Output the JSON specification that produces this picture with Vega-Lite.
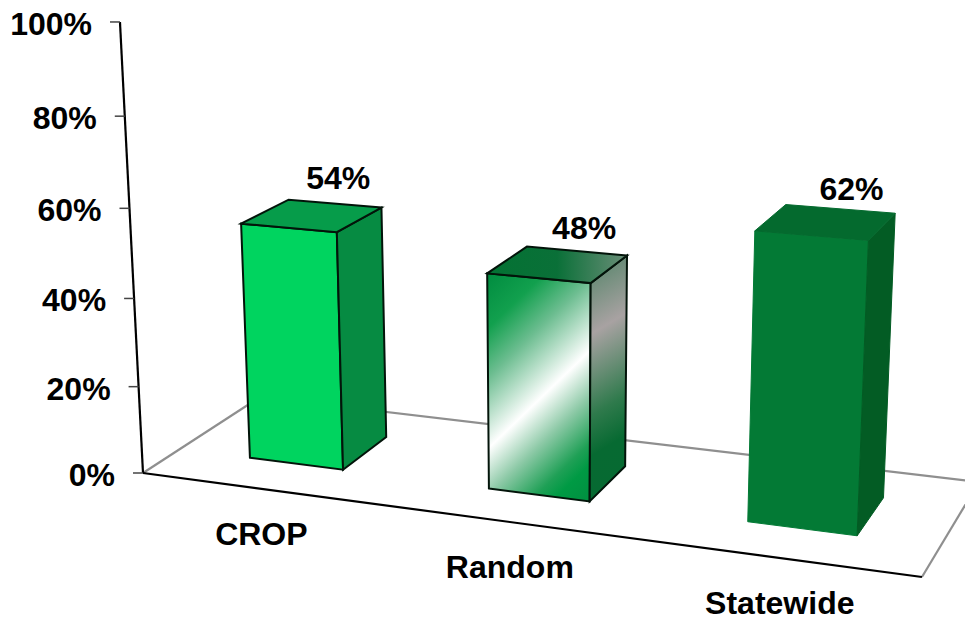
{
  "$schema": "https://vega.github.io/schema/vega-lite/v6.json",
  "description": "Three share bars drawn as boxes on a floor in perspective; every corner is a point in chart space (X along the categories, Z in depth, Y the share) sent through one camera projection.",
  "width": 965,
  "height": 620,
  "padding": 0,
  "autosize": {"type": "none"},
  "background": "white",
  "config": {"view": {"stroke": null}},
  "encoding": {
    "x": {"field": "px", "type": "quantitative", "axis": null, "scale": {"domain": [0, 965], "range": [0, 965], "nice": false, "zero": false}},
    "y": {"field": "py", "type": "quantitative", "axis": null, "scale": {"domain": [0, 620], "range": [0, 620], "nice": false, "zero": false}}
  },
  "layer": [
    {
      "data": {"values": [
        {"edge": "left", "tone": "gray", "k": 0, "X": 0, "Z": 0, "Y": 0},
        {"edge": "left", "tone": "gray", "k": 1, "X": 0, "Z": 1, "Y": 0},
        {"edge": "back", "tone": "gray", "k": 0, "X": 0, "Z": 1, "Y": 0},
        {"edge": "back", "tone": "gray", "k": 1, "X": 1, "Z": 1, "Y": 0},
        {"edge": "right", "tone": "gray", "k": 0, "X": 1, "Z": 1, "Y": 0},
        {"edge": "right", "tone": "gray", "k": 1, "X": 1, "Z": 0, "Y": 0},
        {"edge": "front", "tone": "black", "k": 0, "X": 0, "Z": 0, "Y": 0},
        {"edge": "front", "tone": "black", "k": 1, "X": 1, "Z": 0, "Y": 0},
        {"edge": "axis", "tone": "black", "k": 0, "X": 0, "Z": 0, "Y": 0},
        {"edge": "axis", "tone": "black", "k": 1, "X": 0, "Z": 0, "Y": 1}
      ]},
      "transform": [
        {"calculate": "1-0.117*datum.X+0.0927*datum.Z-0.0531*datum.Y", "as": "w"},
        {"calculate": "(671.1*datum.X+141.1*datum.Z-29.4*datum.Y+143)/datum.w", "as": "px"},
        {"calculate": "(36.5*datum.X-39.2*datum.Z-452.2*datum.Y+473)/datum.w", "as": "py"}
      ],
      "layer": [
        {
          "mark": {"type": "line", "strokeWidth": 2.2},
          "encoding": {
            "detail": {"field": "edge"},
            "order": {"field": "k", "type": "quantitative"},
            "color": {"field": "tone", "type": "nominal", "legend": null, "scale": {"domain": ["gray", "black"], "range": ["#8f8f8f", "#000000"]}}
          }
        }
      ]
    },
    {
      "data": {"values": [{"tick": 0}, {"tick": 20}, {"tick": 40}, {"tick": 60}, {"tick": 80}, {"tick": 100}]},
      "transform": [
        {"calculate": "1-0.0531*datum.tick/100", "as": "w"},
        {"calculate": "(143-29.4*datum.tick/100)/datum.w", "as": "px"},
        {"calculate": "(473-452.2*datum.tick/100)/datum.w", "as": "py"},
        {"calculate": "datum.px-10", "as": "tickEnd"},
        {"calculate": "datum.tick+'%'", "as": "label"}
      ],
      "layer": [
        {
          "mark": {"type": "rule", "stroke": "#444444", "strokeWidth": 1.5},
          "encoding": {"x2": {"field": "tickEnd"}}
        },
        {
          "mark": {"type": "text", "align": "right", "baseline": "middle", "dx": -28, "dy": 3, "font": "Liberation Sans", "fontWeight": "bold", "fontSize": 32, "fill": "#000000"},
          "encoding": {"text": {"field": "label", "type": "nominal"}}
        }
      ]
    },
    {
      "data": {"name": "bars", "values": [
        {"category": "CROP", "value": 54},
        {"category": "Random", "value": 48},
        {"category": "Statewide", "value": 62}
      ]},
      "transform": [
        {"calculate": "(indexof(['CROP','Random','Statewide'],datum.category)+0.5)/3+0.002", "as": "xc"},
        {"calculate": "datum.xc-0.0665", "as": "x0"},
        {"calculate": "datum.xc+0.0665", "as": "x1"},
        {"calculate": "datum.value/100", "as": "h"},
        {"calculate": "[{f:'front',k:0,X:datum.x0,Z:0.3,Y:0},{f:'front',k:1,X:datum.x1,Z:0.3,Y:0},{f:'front',k:2,X:datum.x1,Z:0.3,Y:datum.h},{f:'front',k:3,X:datum.x0,Z:0.3,Y:datum.h},{f:'side',k:0,X:datum.x1,Z:0.3,Y:0},{f:'side',k:1,X:datum.x1,Z:0.71,Y:0},{f:'side',k:2,X:datum.x1,Z:0.71,Y:datum.h},{f:'side',k:3,X:datum.x1,Z:0.3,Y:datum.h},{f:'top',k:0,X:datum.x0,Z:0.3,Y:datum.h},{f:'top',k:1,X:datum.x1,Z:0.3,Y:datum.h},{f:'top',k:2,X:datum.x1,Z:0.71,Y:datum.h},{f:'top',k:3,X:datum.x0,Z:0.71,Y:datum.h}]", "as": "v"},
        {"flatten": ["v"]},
        {"calculate": "datum.v.f", "as": "face"},
        {"calculate": "datum.v.k", "as": "k"},
        {"calculate": "datum.category+' '+datum.face", "as": "piece"},
        {"calculate": "1-0.117*datum.v.X+0.0927*datum.v.Z-0.0531*datum.v.Y", "as": "w"},
        {"calculate": "(671.1*datum.v.X+141.1*datum.v.Z-29.4*datum.v.Y+143)/datum.w", "as": "px"},
        {"calculate": "(36.5*datum.v.X-39.2*datum.v.Z-452.2*datum.v.Y+473)/datum.w", "as": "py"}
      ],
      "encoding": {
        "order": {"field": "k", "type": "quantitative"},
        "detail": {"field": "piece"}
      },
      "layer": [
        {
          "transform": [{"filter": "datum.category==='CROP'&&datum.face==='front'"}],
          "mark": {"type": "line", "interpolate": "linear-closed", "fill": "#00d45f", "stroke": "#03140a", "strokeWidth": 2}
        },
        {
          "transform": [{"filter": "datum.category==='CROP'&&datum.face==='side'"}],
          "mark": {"type": "line", "interpolate": "linear-closed", "fill": "#068b42", "stroke": "#03140a", "strokeWidth": 2}
        },
        {
          "transform": [{"filter": "datum.category==='CROP'&&datum.face==='top'"}],
          "mark": {"type": "line", "interpolate": "linear-closed", "fill": "#069c4a", "stroke": "#03140a", "strokeWidth": 2}
        },
        {
          "transform": [{"filter": "datum.category==='Statewide'&&datum.face==='front'"}],
          "mark": {"type": "line", "interpolate": "linear-closed", "fill": "#037a35", "stroke": "#037a35", "strokeWidth": 1}
        },
        {
          "transform": [{"filter": "datum.category==='Statewide'&&datum.face==='side'"}],
          "mark": {"type": "line", "interpolate": "linear-closed", "fill": "#035c24", "stroke": "#035c24", "strokeWidth": 1}
        },
        {
          "transform": [{"filter": "datum.category==='Statewide'&&datum.face==='top'"}],
          "mark": {"type": "line", "interpolate": "linear-closed", "fill": "#046a2e", "stroke": "#046a2e", "strokeWidth": 1}
        },
        {
          "transform": [{"filter": "datum.category==='Random'&&datum.face==='front'"}],
          "mark": {"type": "line", "interpolate": "linear-closed", "stroke": "#03140a", "strokeWidth": 2,
            "fill": {"gradient": "linear", "x1": 0, "y1": 0, "x2": 0.5275, "y2": 1.206, "stops": [
              {"offset": 0, "color": "#008c3f"},
              {"offset": 0.17, "color": "#12a04e"},
              {"offset": 0.32, "color": "#6cbd90"},
              {"offset": 0.538, "color": "#ffffff"},
              {"offset": 0.68, "color": "#8cc9a6"},
              {"offset": 0.82, "color": "#1fa056"},
              {"offset": 0.885, "color": "#009a44"},
              {"offset": 1, "color": "#008f40"}
            ]}}
        },
        {
          "transform": [{"filter": "datum.category==='Random'&&datum.face==='side'"}],
          "mark": {"type": "line", "interpolate": "linear-closed", "stroke": "#03140a", "strokeWidth": 2,
            "fill": {"gradient": "linear", "x1": 0, "y1": 0, "x2": 0.099, "y2": 1.083, "stops": [
              {"offset": 0, "color": "#4f8265"},
              {"offset": 0.296, "color": "#a8a2a2"},
              {"offset": 0.6, "color": "#2f7a4c"},
              {"offset": 0.75, "color": "#076a32"},
              {"offset": 1, "color": "#066a32"}
            ]}}
        },
        {
          "transform": [{"filter": "datum.category==='Random'&&datum.face==='top'"}],
          "mark": {"type": "line", "interpolate": "linear-closed", "stroke": "#03140a", "strokeWidth": 2,
            "fill": {"gradient": "linear", "x1": 0, "y1": 0, "x2": 1, "y2": 0, "stops": [
              {"offset": 0, "color": "#037233"},
              {"offset": 0.5, "color": "#0a7038"},
              {"offset": 1, "color": "#6a8e78"}
            ]}}
        },
        {
          "transform": [
            {"filter": "datum.face==='top'&&datum.k===3"},
            {"calculate": "datum.value+'%'", "as": "label"},
            {"calculate": "1-0.117*datum.xc+0.0927*0.71-0.0531*datum.h", "as": "w"},
            {"calculate": "(671.1*datum.xc+141.1*0.71-29.4*datum.h+143)/datum.w+1.5+12*datum.xc", "as": "px"},
            {"calculate": "(36.5*datum.xc-39.2*0.71-452.2*datum.h+473)/datum.w-27+8*datum.xc", "as": "py"}
          ],
          "mark": {"type": "text", "align": "center", "baseline": "middle", "dy": 1, "font": "Liberation Sans", "fontWeight": "bold", "fontSize": 32, "fill": "#000000"},
          "encoding": {"text": {"field": "label", "type": "nominal"}}
        },
        {
          "transform": [
            {"filter": "datum.face==='top'&&datum.k===3"},
            {"calculate": "1-0.117*datum.xc", "as": "w"},
            {"calculate": "(671.1*datum.xc+143)/datum.w", "as": "px"},
            {"calculate": "(36.5*datum.xc+473)/datum.w", "as": "py"}
          ],
          "mark": {"type": "text", "align": "center", "baseline": "middle", "dy": 46, "font": "Liberation Sans", "fontWeight": "bold", "fontSize": 32, "fill": "#000000"},
          "encoding": {"text": {"field": "category", "type": "nominal"}}
        }
      ]
    }
  ]
}
